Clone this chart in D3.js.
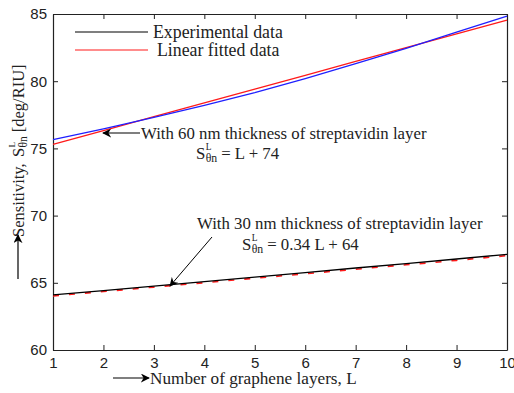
<!DOCTYPE html>
<html>
<head>
<meta charset="utf-8">
<script src="https://cdn.jsdelivr.net/npm/d3@7"></script>
<style>
  body { margin: 0; background: #fff; }
  svg { display: block; }
  .tick text { font-family: "Liberation Sans", Arial, sans-serif; font-size: 15px; fill: #222; }
  .serif { font-family: "Liberation Serif", "Times New Roman", serif; fill: #222; }
</style>
</head>
<body>
<svg class="chart"></svg>
<script>
const layers = [1, 2, 3, 4, 5, 6, 7, 8, 9, 10];
const exp60 = [75.65, 76.45, 77.3, 78.2, 79.15, 80.2, 81.3, 82.45, 83.65, 84.85];
const fit60 = [75.3, 76.33, 77.36, 78.38, 79.41, 80.44, 81.47, 82.5, 83.52, 84.55];
const exp30 = [64.1, 64.42, 64.75, 65.08, 65.42, 65.75, 66.1, 66.43, 66.77, 67.12];
const fit30 = [64.02, 64.35, 64.68, 65.01, 65.34, 65.67, 66.01, 66.34, 66.67, 67.02];
const xTicks = [1, 2, 3, 4, 5, 6, 7, 8, 9, 10];
const yTicks = [60, 65, 70, 75, 80, 85];

var W = 514, H = 393;
var margin = {top: 14, right: 7, bottom: 43, left: 53},
  width = W - margin.left - margin.right,
  height = H - margin.top - margin.bottom;

var x = d3.scaleLinear().domain([1, 10]).range([0, width]);
var y = d3.scaleLinear().domain([60, 85]).range([height, 0]);

var svg = d3.select('.chart').attr('width', W).attr('height', H);

svg.append('defs').append('marker')
  .attr('id', 'arr')
  .attr('viewBox', '0 0 10 10')
  .attr('refX', 9).attr('refY', 5)
  .attr('markerWidth', 9).attr('markerHeight', 9)
  .attr('markerUnits', 'userSpaceOnUse')
  .attr('orient', 'auto')
  .append('path').attr('d', 'M0,0 L10,5 L0,10 L3,5 Z').attr('fill', '#000');

var chart = svg.append('g')
  .attr('transform', 'translate(' + margin.left + ',' + margin.top + ')');

// axes: inward ticks on all four sides
chart.append('g').attr('transform', 'translate(0,' + height + ')')
  .call(d3.axisBottom(x).tickValues(xTicks).tickSizeInner(-5).tickSizeOuter(0).tickPadding(7).tickFormat(d3.format('d')));
chart.append('g')
  .call(d3.axisTop(x).tickValues(xTicks).tickSizeInner(-5).tickSizeOuter(0).tickFormat(''));
chart.append('g')
  .call(d3.axisLeft(y).tickValues(yTicks).tickSizeInner(-5).tickSizeOuter(0).tickPadding(6));
chart.append('g').attr('transform', 'translate(' + width + ',0)')
  .call(d3.axisRight(y).tickValues(yTicks).tickSizeInner(-5).tickSizeOuter(0).tickFormat(''));
chart.selectAll('.domain').attr('stroke', '#222').attr('stroke-width', 1.2);
chart.selectAll('.tick line').attr('stroke', '#222');

var line = function(vals) {
  return d3.line().x(function(d, i) { return x(layers[i]); }).y(function(d) { return y(d); })(vals);
};

chart.append('path').attr('d', line(fit60)).attr('fill', 'none').attr('stroke', '#ff1a1a').attr('stroke-width', 1.3);
chart.append('path').attr('d', line(exp60)).attr('fill', 'none').attr('stroke', '#1f1fff').attr('stroke-width', 1.3);
chart.append('path').attr('d', line(fit30)).attr('fill', 'none').attr('stroke', '#ff1a1a')
  .attr('stroke-width', 1.6).attr('stroke-dasharray', '6,10');
chart.append('path').attr('d', line(exp30)).attr('fill', 'none').attr('stroke', '#000').attr('stroke-width', 1.3);

// legend
var leg = [{label: 'Experimental data', color: '#000', y: 32, x: 153},
           {label: 'Linear fitted data', color: '#ff1a1a', y: 50, x: 157}];
leg.forEach(function(d) {
  svg.append('line').attr('x1', 75).attr('x2', 148).attr('y1', d.y).attr('y2', d.y)
    .attr('stroke', d.color).attr('stroke-width', 1.2);
  svg.append('text').attr('class', 'serif').attr('x', d.x).attr('y', d.y + 6)
    .attr('font-size', 17.8).text(d.label);
});

// S^L_θn label helper
function sLabel(g, x0, y0, rest, fs) {
  g.append('text').attr('class', 'serif').attr('x', x0).attr('y', y0).attr('font-size', fs).text('S');
  g.append('text').attr('class', 'serif').attr('x', x0 + fs * 0.58).attr('y', y0 - fs * 0.55).attr('font-size', fs * 0.56).text('L');
  g.append('text').attr('class', 'serif').attr('x', x0 + fs * 0.58).attr('y', y0 + fs * 0.2).attr('font-size', fs * 0.7).text('θn');
  g.append('text').attr('class', 'serif').attr('x', x0 + fs * 1.5).attr('y', y0).attr('font-size', fs).text(rest);
}

// annotation 60 nm
svg.append('line').attr('x1', 140).attr('y1', 133).attr('x2', 103).attr('y2', 133)
  .attr('stroke', '#000').attr('stroke-width', 1.2).attr('marker-end', 'url(#arr)');
svg.append('text').attr('class', 'serif').attr('x', 141).attr('y', 139).attr('font-size', 16.8)
  .text('With 60 nm thickness of streptavidin layer');
sLabel(svg, 196, 159, '= L + 74', 16.8);

// annotation 30 nm
svg.append('line').attr('x1', 212).attr('y1', 237).attr('x2', 170).attr('y2', 286)
  .attr('stroke', '#000').attr('stroke-width', 1).attr('marker-end', 'url(#arr)');
svg.append('text').attr('class', 'serif').attr('x', 197).attr('y', 229).attr('font-size', 16.8)
  .text('With 30 nm thickness of streptavidin layer');
sLabel(svg, 242, 250, '= 0.34 L + 64', 16.8);

// x label
svg.append('line').attr('x1', 113).attr('y1', 378).attr('x2', 149).attr('y2', 378)
  .attr('stroke', '#000').attr('stroke-width', 1.2).attr('marker-end', 'url(#arr)');
svg.append('text').attr('class', 'serif').attr('x', 150).attr('y', 384).attr('font-size', 17.2)
  .text('Number of graphene layers, L');

// y label
svg.append('line').attr('x1', 18).attr('y1', 279).attr('x2', 18).attr('y2', 235)
  .attr('stroke', '#000').attr('stroke-width', 1.2).attr('marker-end', 'url(#arr)');
var yl = svg.append('g').attr('transform', 'translate(24,237) rotate(-90)');
yl.append('text').attr('class', 'serif').attr('x', 0).attr('y', 0).attr('font-size', 16.5).text('Sensitivity,');
sLabel(yl, 80, 0, '[deg/RIU]', 16.5);
</script>
</body>
</html>
